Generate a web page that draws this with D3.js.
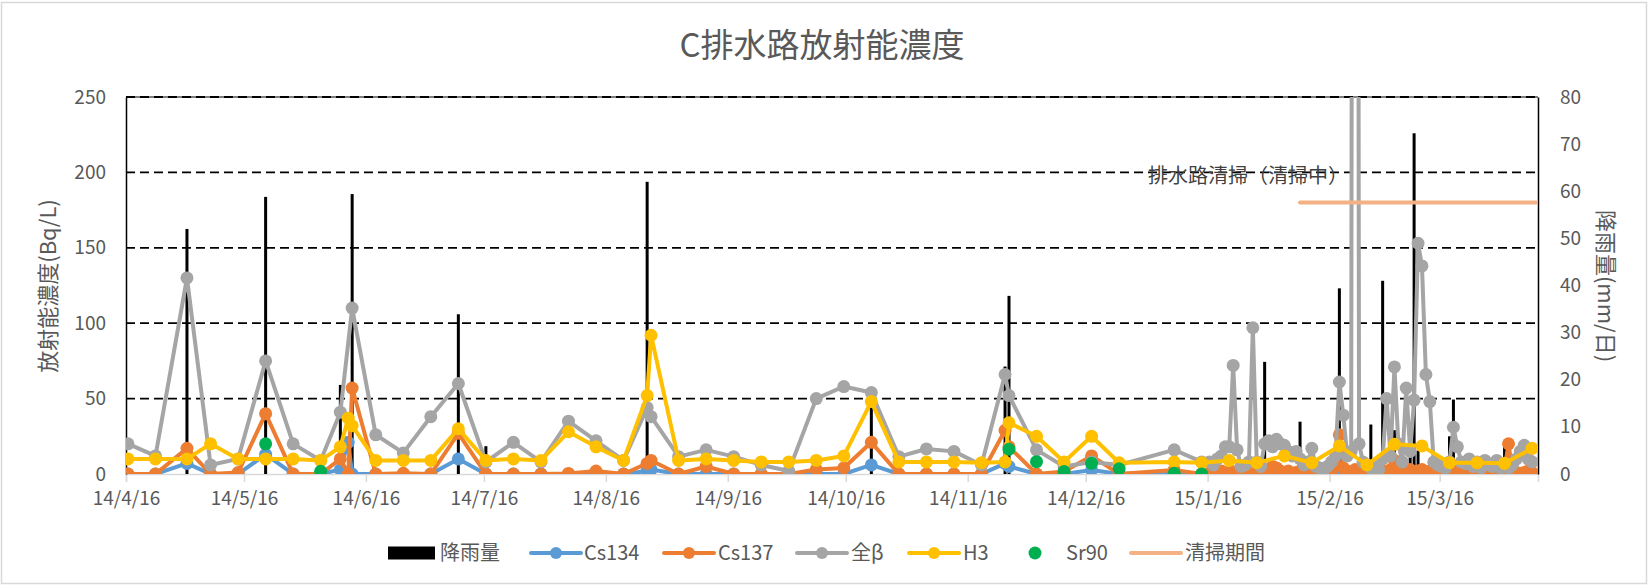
<!DOCTYPE html>
<html>
<head>
<meta charset="utf-8">
<script src="https://cdn.jsdelivr.net/npm/d3@7"></script>
<style>
  body { margin: 0; background: #fff; }
  svg { display: block; font-family: "Noto Sans CJK JP", "Noto Sans", sans-serif; }
</style>
</head>
<body>
<svg id="chart" width="1648" height="585"></svg>
<script>
// ---- weekly sampling (Cs134 / Cs137 / 全β until mid-January, H3 throughout) ----
const sampleDates = [
  "2014-04-16","2014-04-23","2014-05-01","2014-05-07","2014-05-14","2014-05-21","2014-05-28","2014-06-04",
  "2014-06-09","2014-06-11","2014-06-12","2014-06-18","2014-06-25","2014-07-02","2014-07-09","2014-07-16",
  "2014-07-23","2014-07-30","2014-08-06","2014-08-13","2014-08-20","2014-08-26","2014-08-27","2014-09-03",
  "2014-09-10","2014-09-17","2014-09-24","2014-10-01","2014-10-08","2014-10-15","2014-10-22","2014-10-29",
  "2014-11-05","2014-11-12","2014-11-19","2014-11-25","2014-11-26","2014-12-03","2014-12-10","2014-12-17",
  "2014-12-24","2015-01-07","2015-01-14","2015-01-21","2015-01-28","2015-02-04","2015-02-11","2015-02-18",
  "2015-02-25","2015-03-04","2015-03-11","2015-03-18","2015-03-25","2015-04-01","2015-04-08"
];
const h3Values = [
  10,10,10,20,10,10,10,9, 18,37,32,9,9,9,30,9, 10,9,28,18,9,52,92,9,
  10,9,8,8,9,12,48,8, 8,8,7.5,8,34,25,8,25, 7.5,8,7.5,9,7.5,12,7.5,18.6,
  6,19.7,18.6,7.5,7.5,7.1,17
];
const cs137Weekly = [
  0,0,17,0,1,40,0,0, 10,0,57,0,0.5,0,27,0, 0,0,0.4,2,0,7,9,0,
  5,0,0,0,3,4,21,0, 0,0,0,29,18,0,1.6,12, 0,2.7,0,null,null,null,null,null,
  null,null,null,null,null,null,null
];
const cs134Weekly = [
  0,0,7,0,0,13,0,0, 3,21,0,0,0,0,10,0, 0,0,0,0.5,0,2,3,0,
  0,0,0,0,0,0,6,0, 0,0,0,7,5,0,0,2.7, 0,1,0,null,null,null,null,null,
  null,null,null,null,null,null,null
];
const betaWeekly = [
  20,12,130,6,10,75,20,9, 41,null,110,26,14,38,60,8, 21,8,35,22,9,44,38,11.5,
  16,11.5,6,2,50,58,54,11.5, 16.6,15,6,66,52,16,5,8, 6,16,8,null,null,null,null,null,
  null,null,null,null,null,null,null
];

// ---- daily sampling during the drain cleaning work ----
const dailyDates = [
  "2015-01-16","2015-01-17","2015-01-18","2015-01-19","2015-01-20","2015-01-21","2015-01-22","2015-01-23",
  "2015-01-24","2015-01-25","2015-01-26","2015-01-27","2015-01-28","2015-01-29","2015-01-30","2015-01-31",
  "2015-02-01","2015-02-02","2015-02-03","2015-02-04","2015-02-05","2015-02-06","2015-02-07","2015-02-08",
  "2015-02-09","2015-02-10","2015-02-11","2015-02-12","2015-02-13","2015-02-14","2015-02-15","2015-02-16",
  "2015-02-17","2015-02-18","2015-02-19","2015-02-20","2015-02-21","2015-02-22","2015-02-23","2015-02-24",
  "2015-02-25","2015-02-26","2015-02-27","2015-02-28","2015-03-01","2015-03-02","2015-03-03","2015-03-04",
  "2015-03-05","2015-03-06","2015-03-07","2015-03-08","2015-03-09","2015-03-10","2015-03-11","2015-03-12",
  "2015-03-13","2015-03-14","2015-03-15","2015-03-16","2015-03-17","2015-03-18","2015-03-19","2015-03-20",
  "2015-03-21","2015-03-22","2015-03-23","2015-03-24","2015-03-25","2015-03-26","2015-03-27","2015-03-28",
  "2015-03-29","2015-03-30","2015-03-31","2015-04-01","2015-04-02","2015-04-03","2015-04-04","2015-04-05",
  "2015-04-06","2015-04-07","2015-04-08"
];
const betaDaily = [
  8,6,10,12,18,18,72,16, 5,6,8,97,8,5,20,22,
  18,23,20,19,15,12,15,10, 6,8,17,5,4,3,5,8,
  12,61,39,12,15,2000,20,8, 6,4,5,3,10,50,12,71,
  20,8,57,15,49,153,138,66, 48,8,6,5,4,8,31,18,
  8,7,10,5,8,4,9,6, 5,9,4,7,4,6,10,15,
  19,10,8
];
const cs137Daily = [
  0.5,1,0,2,1,0.5,1.5,0, 1,2,0.5,1,3,2,1,3,
  5,4,2,1,2,0.5,1,2, 0.5,1,1.5,0.5,2,1,0.5,2,
  6,26,4,2,1,3,1.5,0.5, 1,2,1,0.5,2,1,3,9,
  2,1,2,3,1.5,2,3,1, 2,0.5,1,2,1,0.5,2,1,
  0.5,1,2,0.5,1,0.5,2,1, 0.5,1,2,3,20,2,1,0.5,
  1,2,1
];
const cs134Daily = [
  0,0,0,0.5,0,0,0,0, 0,0.5,0,0,0.5,0,0,0.5,
  0.5,0,0,0,0.5,0,0,0, 0,0,0.5,0,0,0,0,0,
  0.5,1,0,0,0,0.5,0,0, 0,0,0,0,0.5,0,0,0.5,
  0,0,0,0.5,0,0,0.5,0, 0,0,0,0,0,0,0.5,0,
  0,0,0,0,0,0,0,0, 0,0,0,0,0.5,0,0,0,
  0,0,0
];

const sr90Dates  = ["2014-05-21","2014-06-04","2014-11-26","2014-12-03","2014-12-10","2014-12-17","2014-12-24","2015-01-07","2015-01-14"];
const sr90Values = [20, 1.8, 16.4, 8.2, 1.6, 7.1, 3.5, 0.5, 0];

// daily rainfall (mm/日), secondary axis
const rainDates  = ["2014-05-01","2014-05-21","2014-06-09","2014-06-12","2014-07-09","2014-07-16","2014-08-26",
                    "2014-10-22","2014-11-25","2014-11-26","2015-01-30","2015-02-08","2015-02-18","2015-02-26",
                    "2015-03-01","2015-03-04","2015-03-08","2015-03-09","2015-03-10","2015-03-18","2015-03-19",
                    "2015-04-01","2015-04-07"];
const rainValues = [52, 58.8, 18.9, 59.4, 33.9, 5.9, 62,
                    16, 22.8, 37.8, 23.8, 11.1, 39.4, 10.5,
                    41, 9.3, 4, 72.3, 5, 8, 15.8,
                    7, 6.5];

// cleaning period bar
const cleaningDates = ["2015-02-08", "2015-04-09"];
const cleaningLevel = 180;

const leftTicks  = [0, 50, 100, 150, 200, 250];
const rightTicks = [0, 10, 20, 30, 40, 50, 60, 70, 80];
const monthTicks = ["2014-04-16","2014-05-16","2014-06-16","2014-07-16","2014-08-16","2014-09-16",
                    "2014-10-16","2014-11-16","2014-12-16","2015-01-16","2015-02-16","2015-03-16"];

const COLORS = { cs134: "#5B9BD5", cs137: "#ED7D31", beta: "#A5A5A5", h3: "#FFC000", sr90: "#00B050", clean: "#F4B183" };
const TXT = "#595959";

// ---- helpers ----
const parse = d3.timeParse("%Y-%m-%d");
const mid = s => d3.timeHour.offset(parse(s), 12);   // points sit in the middle of their day
const pairs = (dates, vals) => dates.map((d, i) => ({ date: mid(d), v: vals[i] })).filter(p => p.v !== null);

const svg = d3.select("#chart");
const L = 126, R = 1538, T = 97, B = 474;

const x = d3.scaleTime().domain([parse("2014-04-16"), parse("2015-04-10")]).range([L, R]);
const yL = d3.scaleLinear().domain([0, 250]).range([B, T]);
const yR = d3.scaleLinear().domain([0, 80]).range([B, T]);

// chart area frame
svg.append("rect").attr("x", 1.5).attr("y", 2.5).attr("width", 1645).attr("height", 581)
  .attr("fill", "#fff").attr("stroke", "#d9d9d9").attr("stroke-width", 1.5);

// title
svg.append("text").attr("x", 822).attr("y", 57).attr("text-anchor", "middle")
  .attr("font-size", 33).attr("fill", TXT).text("C排水路放射能濃度");

svg.append("defs").append("clipPath").attr("id", "plotClip")
  .append("rect").attr("x", L).attr("y", T).attr("width", R - L).attr("height", B - T);

// horizontal dashed gridlines
svg.append("g").selectAll("line").data(leftTicks.filter(t => t > 0)).join("line")
  .attr("x1", L).attr("x2", R).attr("y1", d => yL(d)).attr("y2", d => yL(d))
  .attr("stroke", "#000").attr("stroke-width", 1.8).attr("stroke-dasharray", "9,5");

// category axis (light grey) with month ticks
const xAxis = d3.axisBottom(x).tickValues(monthTicks.map(parse)).tickSize(8)
  .tickFormat(d3.timeFormat("%y/%-m/%-d"));
const gx = svg.append("g").attr("transform", `translate(0,${B})`).call(xAxis);
gx.select(".domain").attr("stroke", "#d9d9d9").attr("stroke-width", 1.5);
gx.selectAll(".tick line").attr("stroke", "#d9d9d9").attr("stroke-width", 1.5);
gx.selectAll(".tick text").attr("fill", TXT).attr("font-size", 19).attr("dy", "1.05em")
  .attr("font-family", "'Noto Sans CJK JP', sans-serif");

// value axes
const gl = svg.append("g").attr("transform", `translate(${L},0)`)
  .call(d3.axisLeft(yL).tickValues(leftTicks).tickSize(0).tickPadding(20));
gl.select(".domain").attr("stroke", "#000").attr("stroke-width", 1.5);
gl.selectAll(".tick text").attr("fill", TXT).attr("font-size", 19).attr("font-family", "'Noto Sans CJK JP', sans-serif");

const gr = svg.append("g").attr("transform", `translate(${R},0)`)
  .call(d3.axisRight(yR).tickValues(rightTicks).tickSize(0).tickPadding(22));
gr.select(".domain").attr("stroke", "#000").attr("stroke-width", 1.5);
gr.selectAll(".tick text").attr("fill", TXT).attr("font-size", 19).attr("font-family", "'Noto Sans CJK JP', sans-serif");

// plot frame top
svg.append("line").attr("x1", L).attr("x2", R).attr("y1", T).attr("y2", T)
  .attr("stroke", "#000").attr("stroke-width", 1);

// axis titles
svg.append("text").attr("transform", `translate(56,286) rotate(-90)`).attr("text-anchor", "middle")
  .attr("font-size", 22).attr("fill", TXT).text("放射能濃度(Bq/L)");
svg.append("text").attr("transform", `translate(1598,286) rotate(90)`).attr("text-anchor", "middle")
  .attr("font-size", 22).attr("fill", TXT).text("降雨量(mm/日)");

const plot = svg.append("g").attr("clip-path", "url(#plotClip)");

// rainfall bars
plot.append("g").selectAll("rect").data(pairs(rainDates, rainValues)).join("rect")
  .attr("x", d => x(d.date) - 1.5).attr("width", 3)
  .attr("y", d => yR(d.v)).attr("height", d => B - yR(d.v)).attr("fill", "#000");

// line + marker series
const line = d3.line().x(d => x(d.date)).y(d => yL(d.v));
function series(data, color, r) {
  const g = plot.append("g");
  g.append("path").datum(data).attr("d", line).attr("fill", "none")
    .attr("stroke", color).attr("stroke-width", 4).attr("stroke-linejoin", "round");
  g.selectAll("circle").data(data).join("circle")
    .attr("cx", d => x(d.date)).attr("cy", d => yL(d.v)).attr("r", r).attr("fill", color);
}
const byDate = (a, b) => a.date - b.date;
series(pairs(sampleDates, cs134Weekly).concat(pairs(dailyDates, cs134Daily)).sort(byDate), COLORS.cs134, 6.5);
series(pairs(sampleDates, cs137Weekly).concat(pairs(dailyDates, cs137Daily)).sort(byDate), COLORS.cs137, 6.5);
series(pairs(sampleDates, betaWeekly).concat(pairs(dailyDates, betaDaily)).sort(byDate), COLORS.beta, 6.5);
series(pairs(sampleDates, h3Values), COLORS.h3, 6.5);

// Sr90 markers only
plot.append("g").selectAll("circle").data(pairs(sr90Dates, sr90Values)).join("circle")
  .attr("cx", d => x(d.date)).attr("cy", d => yL(d.v)).attr("r", 6.5).attr("fill", COLORS.sr90);

// cleaning period
plot.append("line")
  .attr("x1", x(mid(cleaningDates[0]))).attr("x2", x(mid(cleaningDates[1])))
  .attr("y1", yL(cleaningLevel)).attr("y2", yL(cleaningLevel))
  .attr("stroke", COLORS.clean).attr("stroke-width", 4).attr("stroke-linecap", "round");

// annotation
svg.append("text").attr("x", 1148).attr("y", 183).attr("font-size", 20).attr("fill", "#404040")
  .text("排水路清掃（清掃中）");

// legend
const legend = [
  { label: "降雨量", kind: "bar",  color: "#000",        kx: 388,  tx: 440 },
  { label: "Cs134", kind: "line", color: COLORS.cs134, kx: 531,  tx: 584 },
  { label: "Cs137", kind: "line", color: COLORS.cs137, kx: 664,  tx: 718 },
  { label: "全β",   kind: "line", color: COLORS.beta,  kx: 797,  tx: 851 },
  { label: "H3",    kind: "line", color: COLORS.h3,    kx: 909,  tx: 963 },
  { label: "Sr90",  kind: "dot",  color: COLORS.sr90,  kx: 1029, tx: 1066 },
  { label: "清掃期間", kind: "plain", color: COLORS.clean, kx: 1131, tx: 1185 }
];
const LY = 553;
const lg = svg.append("g");
legend.forEach(it => {
  if (it.kind === "bar") {
    lg.append("rect").attr("x", it.kx).attr("y", LY - 6.5).attr("width", 47).attr("height", 13).attr("fill", it.color);
  } else if (it.kind === "dot") {
    lg.append("circle").attr("cx", it.kx + 6).attr("cy", LY).attr("r", 6.5).attr("fill", it.color);
  } else {
    lg.append("line").attr("x1", it.kx).attr("x2", it.kx + 50).attr("y1", LY).attr("y2", LY)
      .attr("stroke", it.color).attr("stroke-width", 4).attr("stroke-linecap", "round");
    if (it.kind === "line")
      lg.append("circle").attr("cx", it.kx + 25).attr("cy", LY).attr("r", 6).attr("fill", it.color);
  }
  lg.append("text").attr("x", it.tx).attr("y", LY).attr("dy", "0.35em")
    .attr("font-size", 20).attr("fill", TXT).text(it.label);
});
</script>
</body>
</html>
